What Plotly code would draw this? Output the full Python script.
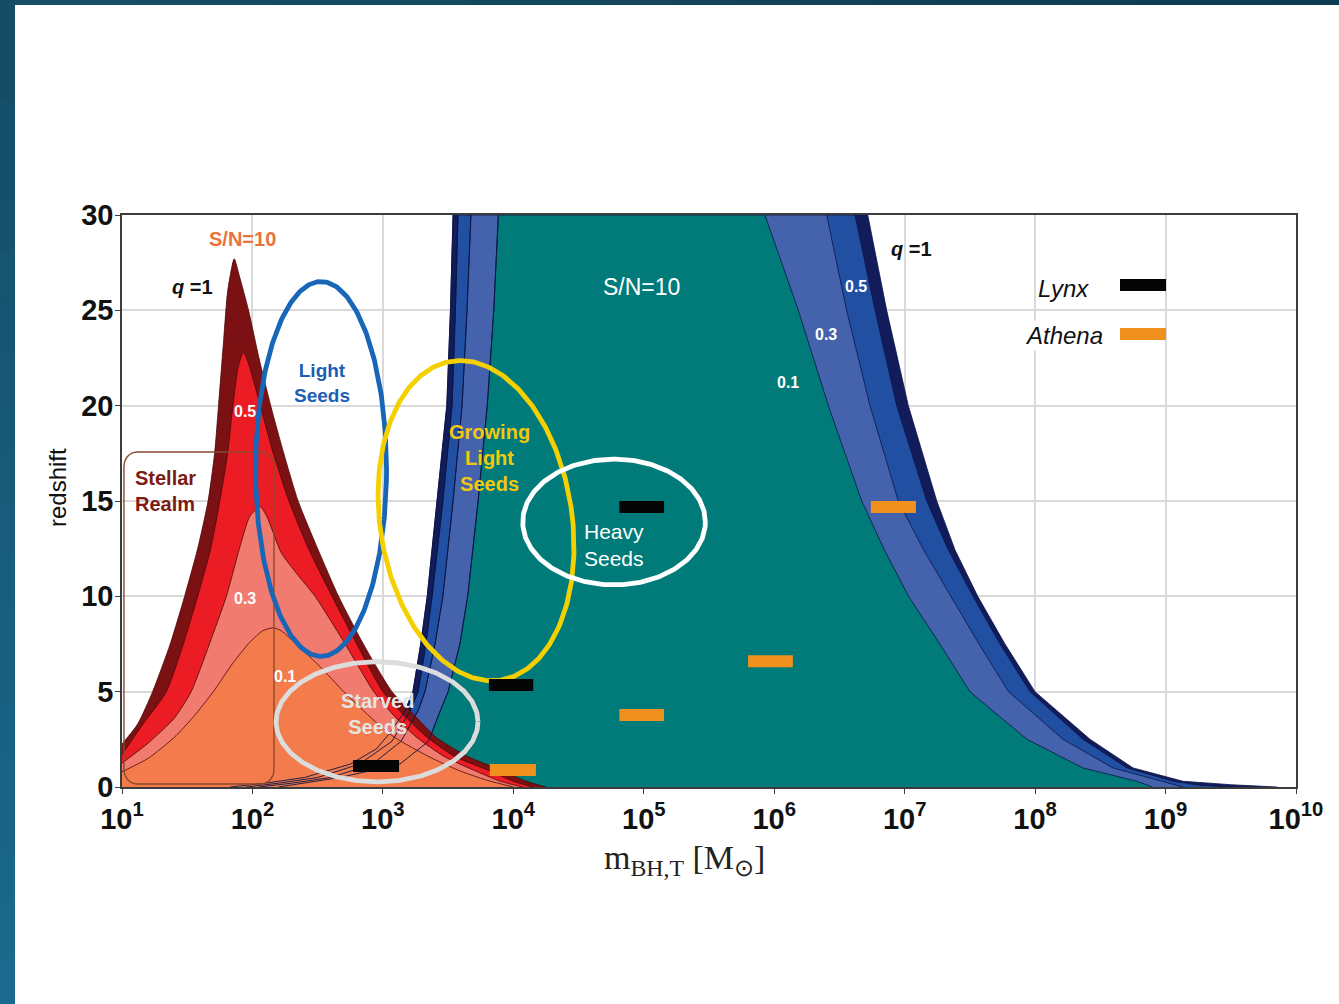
import numpy as np
import plotly.graph_objects as go

# ------------------------------------------------------------------
# Detection horizons: redshift reached at S/N = 10 vs log10 total mass,
# one curve per mass ratio q (1, 0.5, 0.3, 0.1)
# ------------------------------------------------------------------
# Ground-based detector (stellar-mass window)
red_q1_logm = [1.00, 1.12, 1.235, 1.37, 1.48, 1.58, 1.66, 1.71, 1.74, 1.78, 1.81, 1.86,
               1.90, 1.97, 2.05, 2.14, 2.24, 2.35, 2.50, 2.66, 2.85, 3.07, 3.25, 3.41,
               3.65, 3.90, 4.10, 4.25]
red_q1_z = [2.25, 3.3, 5.0, 7.5, 10.0, 12.5, 15.0, 17.5, 20.0, 23.5, 26.0, 27.7,
            26.8, 25.0, 22.5, 20.0, 17.5, 15.0, 12.5, 10.0, 7.5, 5.0, 3.7, 2.6,
            1.6, 0.9, 0.3, 0.0]

red_q05_logm = [1.00, 1.15, 1.34, 1.47, 1.58, 1.68, 1.75, 1.81, 1.85, 1.89, 1.93,
                1.97, 2.06, 2.16, 2.28, 2.43, 2.61, 2.80, 3.00, 3.17, 3.34, 3.55,
                3.80, 4.00, 4.15]
red_q05_z = [1.7, 3.2, 5.0, 7.5, 10.0, 12.5, 15.0, 17.5, 20.0, 22.0, 22.8,
             22.2, 20.0, 17.5, 15.0, 12.5, 10.0, 7.5, 5.0, 3.7, 2.6, 1.6,
             0.9, 0.3, 0.0]

red_q03_logm = [1.00, 1.20, 1.40, 1.53, 1.67, 1.80, 1.90, 1.98, 2.06, 2.11, 2.22,
                2.35, 2.48, 2.72, 2.93, 3.09, 3.26, 3.47, 3.69, 3.90, 4.07]
red_q03_z = [1.25, 2.3, 3.6, 5.0, 7.5, 10.0, 12.5, 14.2, 14.7, 14.2, 12.3,
             11.1, 10.0, 7.4, 5.0, 3.7, 2.6, 1.6, 0.9, 0.3, 0.0]

red_q01_logm = [1.00, 1.20, 1.40, 1.55, 1.70, 1.85, 1.98, 2.08, 2.16, 2.22, 2.35,
                2.52, 2.70, 2.93, 3.09, 3.35, 3.57, 3.80, 4.00]
red_q01_z = [0.8, 1.5, 2.6, 3.7, 5.0, 6.5, 7.6, 8.2, 8.35, 8.2, 7.4,
             6.3, 5.0, 3.5, 2.6, 1.6, 0.9, 0.35, 0.0]

# Space-based detector (massive black holes)
blue_q1_logm = [1.83, 2.10, 2.40, 2.75, 2.95, 3.05, 3.17, 3.23, 3.29, 3.34, 3.415,
                3.49, 3.518, 3.538, 6.717, 6.862, 7.028, 7.246, 7.386, 7.56, 7.769,
                7.999, 8.421, 8.751, 9.134, 9.50, 9.855]
blue_q1_z = [0.0, 0.2, 0.5, 1.2, 2.0, 2.8, 4.0, 5.0, 7.5, 10.0, 15.0,
             20.0, 25.0, 30.0, 30.0, 25.0, 20.0, 15.0, 12.43, 10.0, 7.5,
             5.0, 2.5, 1.0, 0.3, 0.12, 0.0]

blue_q05_logm = [1.95, 2.20, 2.50, 2.82, 3.07, 3.21, 3.27, 3.33, 3.377, 3.46, 3.53,
                 3.556, 3.576, 6.619, 6.773, 6.939, 7.169, 7.33, 7.524, 7.731, 7.961,
                 8.367, 8.705, 9.06, 9.25, 9.47]
blue_q05_z = [0.0, 0.2, 0.5, 1.2, 2.4, 4.0, 5.0, 7.5, 10.0, 15.0, 20.0,
              25.0, 30.0, 30.0, 25.0, 20.0, 15.0, 12.5, 10.0, 7.5, 5.0,
              2.5, 1.0, 0.3, 0.1, 0.0]

blue_q03_logm = [2.05, 2.30, 2.60, 2.92, 3.14, 3.27, 3.323, 3.40, 3.46, 3.538, 3.607,
                 3.645, 3.675, 6.402, 6.555, 6.734, 6.951, 7.14, 7.354, 7.57, 7.796,
                 8.214, 8.597, 8.981, 9.134]
blue_q03_z = [0.0, 0.2, 0.5, 1.2, 2.4, 4.0, 5.0, 7.5, 10.0, 15.0, 20.0,
              25.0, 30.0, 30.0, 25.0, 20.0, 15.0, 12.5, 10.0, 7.5, 5.0,
              2.5, 1.0, 0.3, 0.0]

blue_q01_logm = [2.20, 2.40, 2.67, 3.13, 3.35, 3.44, 3.50, 3.59, 3.65, 3.73, 3.80,
                 3.85, 3.885, 5.929, 6.185, 6.415, 6.671, 6.84, 7.03, 7.27, 7.50,
                 7.938, 8.367, 8.78, 8.90]
blue_q01_z = [0.0, 0.2, 0.5, 1.2, 2.4, 4.0, 5.0, 7.5, 10.0, 15.0, 20.0,
              25.0, 30.0, 30.0, 25.0, 20.0, 15.0, 12.5, 10.0, 7.5, 5.0,
              2.5, 1.0, 0.3, 0.0]

# X-ray missions: mass window and redshift of each detection
lynx_m_lo = [590, 6.5e3, 6.5e4]
lynx_m_hi = [1330, 1.42e4, 1.43e5]
lynx_z = [1.1, 5.35, 14.68]

athena_m_lo = [6.6e3, 6.5e4, 6.3e5, 5.5e6]
athena_m_hi = [1.49e4, 1.43e5, 1.39e6, 1.22e7]
athena_z = [0.89, 3.78, 6.6, 14.68]

x_tick_exponents = list(range(1, 11))
y_ticks = [0, 5, 10, 15, 20, 25, 30]

# ------------------------------------------------------------------
FONT = "Liberation Sans, Arial, Helvetica, sans-serif"
SERIF = "Liberation Serif, Times New Roman, serif"

RED_COLORS = ["#7b1113", "#ec1c24", "#f17b6e", "#f37b4c"]
BLUE_COLORS = ["#131c5a", "#2150a3", "#4563ad", "#007b79"]

fig = go.Figure()


def mass(logm):
    return [10 ** v for v in logm]


def horizon(logm, z, color, edge, shape="linear"):
    fig.add_trace(go.Scatter(
        x=mass(logm), y=z, mode="lines", fill="tozeroy", fillcolor=color,
        line=dict(color=edge, width=0.8, shape=shape, smoothing=0.6),
        hoverinfo="skip", showlegend=False))


blue_sets = [(blue_q1_logm, blue_q1_z), (blue_q05_logm, blue_q05_z),
             (blue_q03_logm, blue_q03_z), (blue_q01_logm, blue_q01_z)]
red_sets = [(red_q1_logm, red_q1_z), (red_q05_logm, red_q05_z),
            (red_q03_logm, red_q03_z), (red_q01_logm, red_q01_z)]

for (lm, zz), col in zip(blue_sets, BLUE_COLORS):
    horizon(lm, zz, col, "#0b1446")
for (lm, zz), col in zip(red_sets, RED_COLORS):
    horizon(lm, zz, col, "#4a0708", shape="spline")

# rising (low-mass) edges of the space-detector horizons stay visible on top
for lm, zz in blue_sets:
    k = zz.index(30.0) + 1
    fig.add_trace(go.Scatter(x=mass(lm[:k]), y=zz[:k], mode="lines",
                             line=dict(color="#0b1446", width=0.9),
                             hoverinfo="skip", showlegend=False))


# ------------------------------------------------------------------
# "Stellar Realm" rounded box
def rounded_box(x0, x1, y0, y1, rx, ry, n=12):
    xs, ys = [], []
    corners = [(x1 - rx, y1 - ry, 0.0), (x0 + rx, y1 - ry, 90.0),
               (x0 + rx, y0 + ry, 180.0), (x1 - rx, y0 + ry, 270.0)]
    for cx, cy, a0 in corners:
        for a in np.radians(np.linspace(a0, a0 + 90, n)):
            xs.append(cx + rx * np.cos(a))
            ys.append(cy + ry * np.sin(a))
    xs.append(xs[0])
    ys.append(ys[0])
    return [10 ** v for v in xs], ys


bx, by = rounded_box(1.015, 2.165, 0.16, 17.57, 0.1, 0.75)
fig.add_trace(go.Scatter(x=bx, y=by, mode="lines",
                         line=dict(color="#8a4a2c", width=1.4),
                         hoverinfo="skip", showlegend=False))

# seed-population ellipses (drawn in log-mass / redshift space)
ASPECT = 6.84  # redshift units per mass decade on screen


def ellipse(c_logm, c_z, half_w_dex, half_h_z, tilt_deg=0.0, n=300):
    t = np.linspace(0, 2 * np.pi, n)
    u = half_w_dex * ASPECT * np.cos(t)
    v = half_h_z * np.sin(t)
    a = np.radians(tilt_deg)
    du = u * np.cos(a) - v * np.sin(a)
    dv = u * np.sin(a) + v * np.cos(a)
    return 10 ** (c_logm + du / ASPECT), c_z + dv


for params, col in [((2.526, 16.68, 0.502, 9.83), "#1766b8"),
                    ((3.714, 13.97, 0.736, 8.46, 8.7), "#f5d000"),
                    ((4.772, 13.90, 0.700, 3.30), "#ffffff"),
                    ((2.955, 3.42, 0.774, 3.15), "#dcdcdc")]:
    ex, ey = ellipse(*params)
    fig.add_trace(go.Scatter(x=ex, y=ey, mode="lines",
                             line=dict(color=col, width=4.8),
                             hoverinfo="skip", showlegend=False))


# mission bars
def bars(lo, hi, zz, color):
    xs, ys = [], []
    for a, b, c in zip(lo, hi, zz):
        xs += [a, b, None]
        ys += [c, c, None]
    fig.add_trace(go.Scatter(x=xs, y=ys, mode="lines",
                             line=dict(color=color, width=12),
                             hoverinfo="skip", showlegend=False))


bars(lynx_m_lo, lynx_m_hi, lynx_z, "#050505")
bars(athena_m_lo, athena_m_hi, athena_z, "#f0901f")


# ------------------------------------------------------------------
# labels
def label(text, lx, ly, color, size, bold=True, bg=None, align="center"):
    fig.add_annotation(x=lx, y=ly, xref="x", yref="y", text=text, showarrow=False,
                       align=align, bgcolor=bg,
                       font=dict(family=FONT, size=size, color=color,
                                 weight="bold" if bold else "normal"))


label("S/N=10", 1.92, 28.74, "#e8743b", 20)
label("<i>q</i> =1", 1.544, 26.22, "#111111", 20)
label("0.5", 1.943, 19.72, "#ffffff", 16)
label("0.3", 1.943, 9.91, "#ffffff", 16)
label("0.1", 2.25, 5.82, "#ffffff", 16)
label("Stellar<br>Realm", 1.337, 15.52, "#7c1a14", 20, align="left")
label("Light<br>Seeds", 2.533, 21.19, "#1a5fb4", 19)
label("Growing<br>Light<br>Seeds", 3.821, 17.25, "#f2c80f", 20)
label("Heavy<br>Seeds", 4.772, 12.69, "#ffffff", 21, bold=False)
label("Starved<br>Seeds", 2.955, 3.83, "#e4e4e4", 20)
label("S/N=10", 4.979, 26.22, "#ffffff", 23, bold=False)
label("0.5", 6.627, 26.27, "#ffffff", 16)
label("0.3", 6.397, 23.75, "#ffffff", 16)
label("0.1", 6.106, 21.24, "#ffffff", 16)
label("<i>q</i> =1", 7.049, 28.21, "#111111", 20)
label("<i>Lynx</i>", 8.214, 26.17, "#111111", 24, bold=False, bg="#ffffff")
label("<i>Athena</i>", 8.222, 23.70, "#111111", 24, bold=False, bg="#ffffff")

# ------------------------------------------------------------------
# page frame: plot area spans pixels 122..1296 horizontally and 215..787 vertically
W, H = 1339, 1004
L, R, T, B = 122, 43, 215, 217
PW, PH = W - L - R, H - T - B


def px(xp):
    return (xp - L) / PW


def py(yp):
    return (H - B - yp) / PH


shapes = [dict(type="rect", xref="paper", yref="paper", layer="below",
               x0=px(-50), x1=px(W + 50), y0=py(H + 50), y1=py(-50),
               fillcolor="#ffffff", line=dict(width=0))]


def mix(c1, c2, f):
    a = [int(c1[i:i + 2], 16) for i in (1, 3, 5)]
    b = [int(c2[i:i + 2], 16) for i in (1, 3, 5)]
    return "#" + "".join(f"{round(p + (q - p) * f):02x}" for p, q in zip(a, b))


n_seg = 20
for i in range(n_seg):
    f = (i + 0.5) / n_seg
    y_top, y_bot = H * i / n_seg, H * (i + 1) / n_seg
    shapes.append(dict(type="rect", xref="paper", yref="paper", layer="below",
                       x0=px(-50), x1=px(15), y0=py(y_bot + 1), y1=py(y_top),
                       fillcolor=mix("#144b64", "#1b6a8d", f), line=dict(width=0)))
    x_l, x_r = W * i / n_seg, W * (i + 1) / n_seg
    shapes.append(dict(type="rect", xref="paper", yref="paper", layer="below",
                       x0=px(max(x_l, 15)), x1=px(x_r + 1), y0=py(5), y1=py(-50),
                       fillcolor=mix("#165067", "#0f3a50", f), line=dict(width=0)))

# legend swatches
for yc, col in [(285, "#050505"), (334, "#f0901f")]:
    shapes.append(dict(type="rect", xref="paper", yref="paper", layer="above",
                       x0=px(1120), x1=px(1166), y0=py(yc + 6), y1=py(yc - 6),
                       fillcolor=col, line=dict(width=0)))

# axis titles
fig.add_annotation(x=px(684), y=py(860), xref="paper", yref="paper", showarrow=False,
                   xanchor="center", yanchor="middle",
                   text="m<sub>BH,T</sub> [M<sub>⊙</sub>]",
                   font=dict(family=SERIF, size=34, color="#222222"))
fig.add_annotation(x=px(57), y=py(488), xref="paper", yref="paper", showarrow=False,
                   xanchor="center", yanchor="middle", textangle=-90,
                   text="redshift",
                   font=dict(family=FONT, size=24, color="#111111"))

axis_common = dict(showgrid=True, gridcolor="#d9d9d9", gridwidth=1.5, zeroline=False,
                   showline=True, linecolor="#3c3c3c", linewidth=1.5, mirror=True,
                   ticks="outside", ticklen=5, tickcolor="#3c3c3c",
                   tickfont=dict(family=FONT, size=29, color="#111111", weight="bold"))

fig.update_layout(
    width=W, height=H, autosize=False,
    margin=dict(l=L, r=R, t=T, b=B),
    paper_bgcolor="#ffffff", plot_bgcolor="#ffffff",
    shapes=shapes,
    showlegend=False,
    xaxis=dict(type="log", range=[1, 10],
               tickvals=[10 ** k for k in x_tick_exponents],
               ticktext=[f"10<sup>{k}</sup>" for k in x_tick_exponents],
               **axis_common),
    yaxis=dict(range=[0, 30], tickvals=y_ticks, ticklabelstandoff=-4, **axis_common),
)

fig.write_html("out.html")
